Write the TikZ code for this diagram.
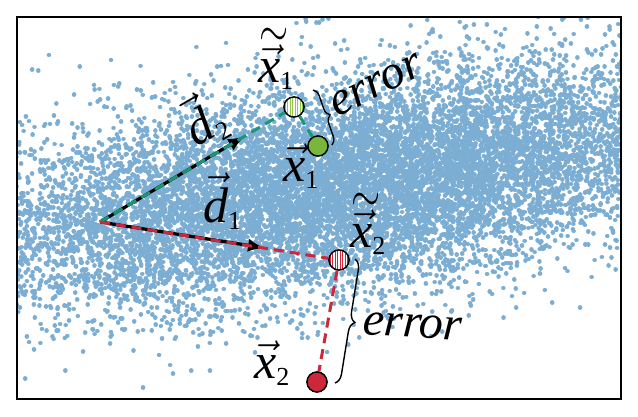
\RequirePackage{fix-cm}
\documentclass[tikz,border=0pt]{standalone}
\usepackage{amsmath}
\usepackage{exscale}
\usepackage{fontspec}
\setmainfont{Liberation Serif}
\usetikzlibrary{arrows.meta,decorations.pathreplacing}
\definecolor{ptblue}{RGB}{124,174,212}
\definecolor{teal}{RGB}{30,150,118}
\definecolor{ptgreen}{RGB}{120,182,62}
\definecolor{hgreen}{RGB}{145,200,70}
\definecolor{ptred}{RGB}{204,40,58}
\newcommand\myvx{\ensuremath{\vec{\text{\itshape x}}}}
\newcommand\mytx{\rlap{\hspace{0.02em}\raisebox{0.72em}{\scalebox{0.75}[1]{$\sim$}}}\myvx}
\newcommand\myvd{\ensuremath{\vec{\text{\itshape d}}}}
\newcommand\mysub[1]{\raisebox{-0.14em}{\fontsize{26}{26}\selectfont #1}}
\tikzset{
  lbl/.style={font=\fontsize{50}{54}\selectfont, inner sep=0pt},
  errlbl/.style={font=\fontsize{48}{52}\selectfont\itshape, inner sep=0pt},
  dot/.style={circle, draw=black, line width=1.3pt, minimum size=20pt, inner sep=0pt},
  hatched/.style={fill=white, path picture={
      \foreach \k in {-8.75,-6.25,...,8.75}{
        \draw[#1, line width=1.1pt] ([xshift=\k pt]path picture bounding box.north) -- ([xshift=\k pt]path picture bounding box.south);}}},
  blackarrow/.style={black, line width=3.2pt, -{Latex[length=17pt,width=13pt]}},
  dashline/.style={#1, line width=3pt, dash pattern=on 10pt off 6pt},
  bracestyle/.style={black, line width=1.4pt, decorate, decoration={brace, amplitude=#1}},
}
\begin{document}
\begin{tikzpicture}[x=1pt,y=-1pt]
\useasboundingbox (0,0) rectangle (638,416);
\fill[white] (0,0) rectangle (638,416);
\begin{scope}
\clip (17,17) rectangle (621,399);
\begin{scope}[ptblue, line width=4.6pt, line cap=round]
\pgfmathsetseed{7}
\foreach \i in {1,...,13000}{
  \pgfmathsetmacro\rr{sqrt(-2*ln(0.00001+rnd))}
  \pgfmathsetmacro\tt{360*rnd}
  \pgfmathsetmacro\px{345+195*\rr*cos(\tt)}
  \pgfmathsetmacro\py{185+52*\rr*sin(\tt)-0.16*(\px-345)}
  \pgfpathmoveto{\pgfpointxy{\px}{\py}}
  \pgfpathlineto{\pgfpointxy{\px+0.01}{\py}}
  \pgfusepath{stroke}
}
\end{scope}
\end{scope}
\draw[black, line width=1.5pt] (17,17) rectangle (621,399);

\coordinate (o) at (100,222);
\coordinate (t2) at (245,136);
\coordinate (t1) at (265,248);
\node[dot, hatched=hgreen] (xt1) at (294,107) {};
\node[dot, fill=ptgreen] (x1) at (318,146) {};
\node[dot, hatched=ptred] (xt2) at (339,260) {};
\node[dot, fill=ptred] (x2) at (317,382) {};

\draw[blackarrow] (o) -- (t2);
\draw[blackarrow] (o) -- (t1);
\draw[dashline=teal] (o) -- (xt1);
\draw[dashline=teal] (xt1) -- (x1);
\draw[dashline=ptred] (o) -- (xt2);
\draw[dashline=ptred] (xt2) -- (x2);
\node[dot, hatched=hgreen] at (xt1) {};
\node[dot, fill=ptgreen] at (x1) {};
\node[dot, hatched=ptred] at (xt2) {};
\node[dot, fill=ptred] at (x2) {};

\node[lbl, anchor=base west] (lxt1) at (258,82) {\mytx\mysub{1}};
\node[lbl, anchor=base west] (lx1) at (283,181) {\myvx\mysub{1}};
\node[lbl, anchor=base west] (lxt2) at (350,247) {\mytx\mysub{2}};
\node[lbl, anchor=base west] (lx2) at (254,378) {\myvx\mysub{2}};
\node[lbl, rotate=30] (ld2) at (203,120) {\myvd\mysub{2}};
\node[lbl, anchor=base west] (ld1) at (203,222) {\myvd\mysub{1}};

\coordinate (b1a) at (313,90);
\coordinate (b1b) at (332,145);
\draw[bracestyle=8pt] (b1a) -- (b1b);
\node[errlbl, rotate=27, anchor=base west] (e1) at (337,118) {error};
\coordinate (b2a) at (355,259);
\coordinate (b2b) at (335,383);
\draw[bracestyle=10pt] (b2a) -- (b2b);
\node[errlbl, rotate=-4, anchor=base west] (e2) at (362,334) {error};
\end{tikzpicture}
\end{document}
